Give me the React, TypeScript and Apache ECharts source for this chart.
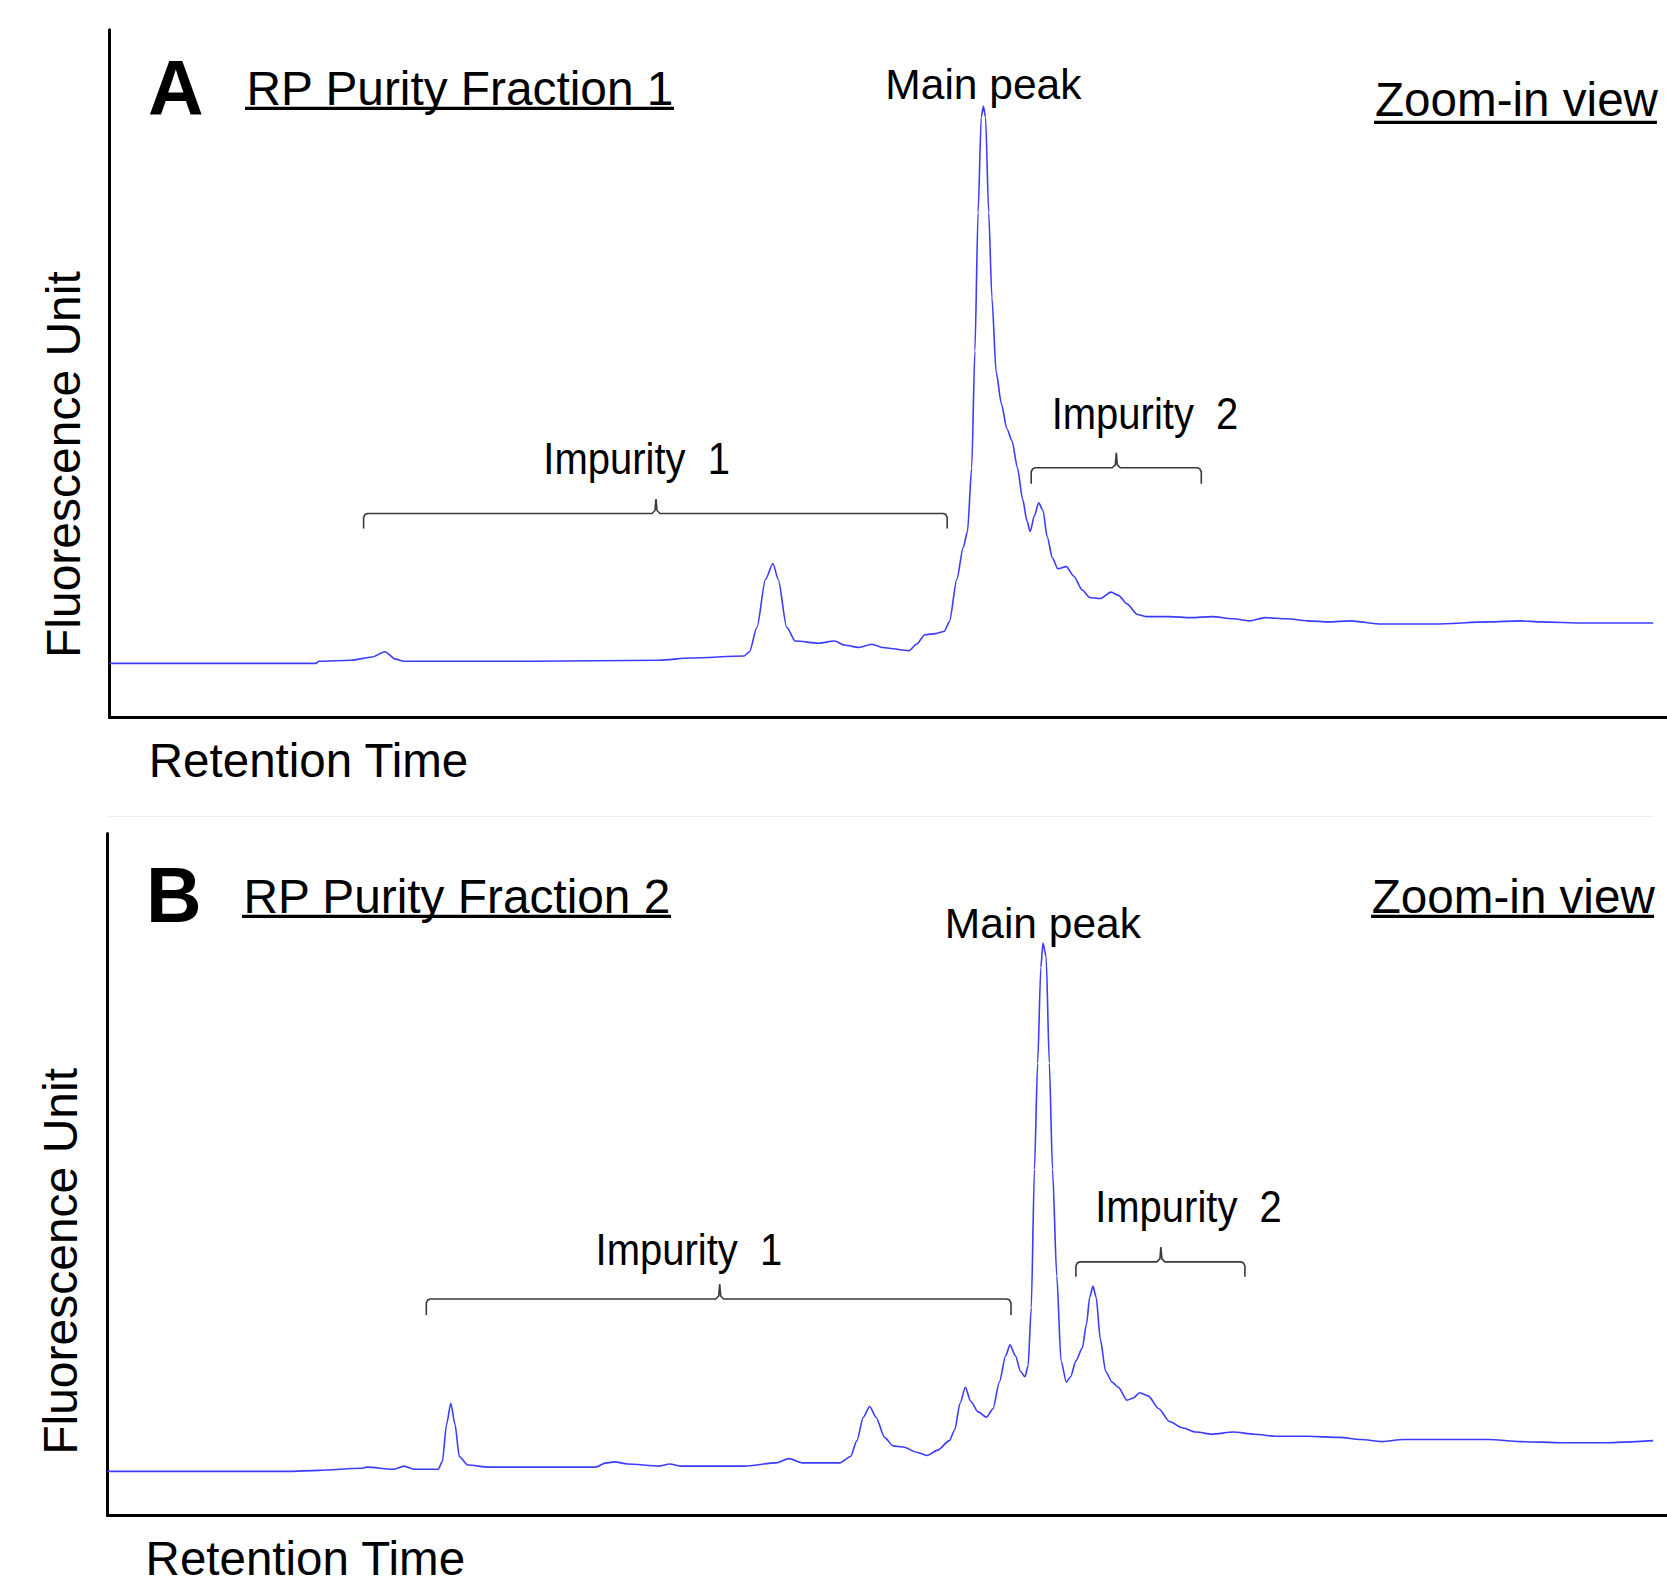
import React, { useEffect, useRef } from "react";
import * as echarts from "echarts";

// ---- texts ----
const panelLetters = ["A", "B"];
const panelTitles = ["RP Purity Fraction 1", "RP Purity Fraction 2"];
const mainPeakLabel = "Main peak";
const zoomLabel = "Zoom-in view";
const impurityLabels = ["Impurity  1", "Impurity  2"];
const xAxisTitle = "Retention Time";
const yAxisTitle = "Fluorescence Unit";

// ---- data (retention time and fluorescence in arbitrary units) ----
// Panel A: RP Purity Fraction 1
const timeA = [
  0, 194, 197, 227, 247, 259, 269, 277, 397, 517, 547, 597, 602, 609, 617, 624, 629, 637, 645,
  667, 682, 692, 705, 717, 727, 752, 759, 767, 777, 785, 790, 797, 803, 807, 811, 814, 817, 820,
  822, 824, 827, 830, 834, 839, 844, 849, 854, 859, 863, 866, 870, 874, 878, 882, 887, 892, 900,
  907, 915, 922, 932, 942, 949, 957, 967, 975, 997, 1017, 1037, 1057, 1072, 1087, 1107, 1127,
  1147, 1167, 1197, 1247, 1297, 1327, 1347, 1387, 1452,
];
const signalA = [
  51, 51, 53, 54, 57, 62, 55, 53, 53, 54, 56, 58, 62, 85, 130, 145, 130, 85, 72,
  70, 72, 68, 66, 69, 66, 63, 69, 78, 79, 81, 90, 130, 160, 175, 235, 345, 475, 565,
  575, 565, 475, 395, 325, 295, 272, 260, 235, 205, 185, 175, 190, 202, 195, 170, 150, 140, 142,
  133, 120, 113, 112, 118, 115, 107, 97, 95, 95, 94, 95, 93, 91, 94, 93, 91,
  90, 91, 88, 88, 90, 91, 90, 89, 89,
];

// Panel B: RP Purity Fraction 2
const timeB = [
  0, 169, 199, 239, 244, 269, 279, 289, 311, 315, 319, 323, 327, 331, 339, 359, 459, 469, 477,
  489, 519, 529, 539, 599, 629, 641, 654, 689, 699, 705, 711, 717, 723, 731, 739, 749, 761, 771,
  781, 792, 797, 802, 807, 812, 819, 827, 833, 839, 845, 849, 854, 859, 863, 866, 869, 872, 875,
  878, 880, 883, 886, 889, 893, 897, 902, 906, 911, 917, 921, 924, 927, 930, 934, 939, 945, 951,
  959, 965, 971, 979, 989, 999, 1011, 1024, 1039, 1059, 1079, 1099, 1129, 1159, 1179, 1199, 1219,
  1299, 1329, 1369, 1409, 1454,
];
const signalB = [
  41, 41, 42, 44, 45, 43, 46, 43, 43, 50, 85, 105, 85, 55, 47, 45, 45, 49, 50,
  48, 46, 48, 46, 46, 49, 53, 49, 49, 55, 70, 92, 102, 92, 73, 65, 64, 59, 56,
  61, 70, 80, 105, 120, 107, 97, 92, 100, 125, 150, 160, 150, 135, 130, 140, 195, 325, 425,
  515, 538, 525, 425, 325, 225, 145, 125, 130, 145, 157, 180, 205, 215, 205, 165, 135, 125, 120,
  108, 110, 115, 112, 100, 88, 82, 78, 76, 78, 76, 74, 74, 73, 71, 69, 71,
  71, 69, 68, 68, 70,
];

// axis extents (same arbitrary units)
const xMaxA = 1465;
const yMaxA = 647;
const xMaxB = 1467;
const yMaxB = 641;

const FONT = '"Liberation Sans", Arial, Helvetica, sans-serif';
const LINE_BLUE = "#3c3cff";

function txt(
  text: string,
  x: number,
  y: number,
  size: number,
  align: string,
  opts: any = {}
) {
  return {
    type: "text",
    x,
    y,
    rotation: opts.rotation || 0,
    scaleX: opts.scaleX || 1,
    scaleY: opts.scaleY || 1,
    silent: true,
    style: {
      text,
      x: 0,
      y: 0,
      fill: "#000",
      fontSize: size,
      fontFamily: FONT,
      fontWeight: opts.bold ? "bold" : "normal",
      lineHeight: opts.lineHeight || undefined,
      align,
      verticalAlign: "middle",
      textAlign: align,
      textVerticalAlign: "middle",
    },
  };
}

function rect(x: number, y: number, w: number, h: number, color = "#000") {
  return {
    type: "rect",
    silent: true,
    shape: { x, y, width: w, height: h },
    style: { fill: color },
  };
}

function bracket(x1: number, x2: number, xm: number, yb: number, ytip: number, ytop: number) {
  return {
    type: "polyline",
    silent: true,
    shape: {
      points: [
        [x1, ytip],
        [x1, yb + 4],
        [x1 + 1.5, yb + 1],
        [x1 + 4, yb],
        [xm - 4, yb],
        [xm - 1, yb - 3],
        [xm, ytop],
        [xm + 1, yb - 3],
        [xm + 4, yb],
        [x2 - 4, yb],
        [x2 - 1.5, yb + 1],
        [x2, yb + 4],
        [x2, ytip],
      ],
    },
    style: { stroke: "#3a3a3a", lineWidth: 1.6, fill: null },
  };
}

export default function App() {
  const ref = useRef<HTMLDivElement>(null);

  useEffect(() => {
    if (!ref.current) return;
    const chart = echarts.init(ref.current, undefined, { renderer: "svg" });

    const dataA = timeA.map((t, i) => [t, signalA[i]]);
    const dataB = timeB.map((t, i) => [t, signalB[i]]);

    const axisLine = { show: true, onZero: false, lineStyle: { color: "#000", width: 3 } };
    const hidden = {
      axisTick: { show: false },
      axisLabel: { show: false },
      splitLine: { show: false },
    };

    const graphic: any[] = [
      // faint separator
      rect(109, 816, 1544, 1, "#eeeeee"),
      // Panel A
      txt(panelLetters[0], 148, 88.3, 77, "left", { bold: true }),
      txt(panelTitles[0], 246.6, 88.3, 47.8, "left"),
      rect(245, 106.8, 429, 3.2),
      txt(mainPeakLabel, 983.4, 84.7, 42.5, "center"),
      txt(zoomLabel, 1375, 99.7, 47.6, "left"),
      rect(1374, 120.8, 283, 3.2),
      txt(impurityLabels[0], 636.7, 459.2, 43.5, "center", { scaleX: 0.92 }),
      bracket(363.6, 947.2, 656, 513.5, 528.4, 499),
      txt(impurityLabels[1], 1145, 413.5, 43.5, "center", { scaleX: 0.92 }),
      bracket(1031.2, 1201.3, 1116.3, 467.8, 483.7, 452.9),
      txt(xAxisTitle, 148.8, 760, 47.5, "left"),
      txt(yAxisTitle, 63.8, 464.6, 48, "center", { rotation: Math.PI / 2 }),
      // Panel B
      txt(panelLetters[1], 146, 894.6, 77, "left", { bold: true }),
      txt(panelTitles[1], 243.5, 896.3, 47.8, "left"),
      rect(242, 914.8, 429, 3.2),
      txt(mainPeakLabel, 1042.9, 923, 42.5, "center"),
      txt(zoomLabel, 1371.8, 896.3, 47.6, "left"),
      rect(1371, 914.8, 283, 3.2),
      txt(impurityLabels[0], 688.9, 1250.2, 43.5, "center", { scaleX: 0.92 }),
      bracket(426.3, 1011, 719.7, 1299, 1315, 1284),
      txt(impurityLabels[1], 1188.5, 1206.6, 43.5, "center", { scaleX: 0.92 }),
      bracket(1075.9, 1244.9, 1160.9, 1261.9, 1276.8, 1247),
      txt(xAxisTitle, 145.6, 1558, 47.5, "left", { lineHeight: 40 }),
      txt(yAxisTitle, 60.6, 1261.4, 48, "center", { rotation: Math.PI / 2 }),
    ];

    chart.setOption({
      animation: false,
      backgroundColor: "#ffffff",
      grid: [
        { left: 109.5, top: 29.8, width: 1557.5, height: 687.8 },
        { left: 107.4, top: 833.5, width: 1559.6, height: 681.5 },
      ],
      xAxis: [
        { type: "value", gridIndex: 0, min: 0, max: xMaxA, axisLine, ...hidden },
        { type: "value", gridIndex: 1, min: 0, max: xMaxB, axisLine, ...hidden },
      ],
      yAxis: [
        { type: "value", gridIndex: 0, min: 0, max: yMaxA, axisLine, ...hidden },
        { type: "value", gridIndex: 1, min: 0, max: yMaxB, axisLine, ...hidden },
      ],
      series: [
        {
          type: "line",
          xAxisIndex: 0,
          yAxisIndex: 0,
          data: dataA,
          showSymbol: false,
          symbol: "none",
          smooth: 0.25,
          smoothMonotone: "x",
          lineStyle: { color: LINE_BLUE, width: 1.6 },
          silent: true,
        },
        {
          type: "line",
          xAxisIndex: 1,
          yAxisIndex: 1,
          data: dataB,
          showSymbol: false,
          symbol: "none",
          smooth: 0.25,
          smoothMonotone: "x",
          lineStyle: { color: LINE_BLUE, width: 1.6 },
          silent: true,
        },
      ],
      graphic,
    });

    return () => chart.dispose();
  }, []);

  return (
    <div
      ref={ref}
      style={{ position: "absolute", left: 0, top: 0, width: 1667, height: 1581, background: "#fff" }}
    />
  );
}
